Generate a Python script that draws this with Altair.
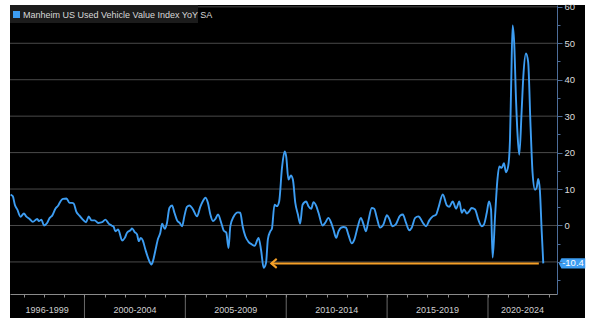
import altair as alt
import pandas as pd

# ---------------- data ----------------
years = [
    1996.34, 1996.45, 1996.55, 1996.67, 1996.83, 1997.00, 1997.11, 1997.28, 1997.44, 1997.66,
    1997.74, 1997.87, 1997.99, 1998.15, 1998.28, 1998.40, 1998.56, 1998.70, 1998.81, 1998.93,
    1999.11, 1999.26, 1999.39, 1999.47, 1999.59, 1999.75, 1999.92, 2000.08, 2000.21, 2000.35,
    2000.51, 2000.68, 2000.88, 2001.04, 2001.20, 2001.34, 2001.45, 2001.53, 2001.67, 2001.87,
    2002.00, 2002.11, 2002.28, 2002.36, 2002.49, 2002.61, 2002.69, 2002.79, 2002.89, 2003.02,
    2003.18, 2003.32, 2003.40, 2003.51, 2003.65, 2003.76, 2003.85, 2003.98, 2004.09, 2004.21,
    2004.34, 2004.46, 2004.59, 2004.72, 2004.84, 2004.95, 2005.08, 2005.21, 2005.36, 2005.58,
    2005.74, 2005.88, 2005.99, 2006.12, 2006.24, 2006.37, 2006.49, 2006.62, 2006.78, 2006.90,
    2007.03, 2007.14, 2007.23, 2007.39, 2007.61, 2007.72, 2007.84, 2007.97, 2008.13, 2008.30,
    2008.43, 2008.63, 2008.76, 2008.88, 2009.00, 2009.09, 2009.21, 2009.29, 2009.42, 2009.54,
    2009.65, 2009.79, 2009.92, 2010.00, 2010.11, 2010.23, 2010.33, 2010.45, 2010.58, 2010.69,
    2010.81, 2010.99, 2011.10, 2011.24, 2011.35, 2011.49, 2011.60, 2011.80, 2011.93, 2012.09,
    2012.23, 2012.34, 2012.48, 2012.59, 2012.72, 2012.84, 2012.96, 2013.08, 2013.25, 2013.38,
    2013.55, 2013.70, 2013.83, 2013.95, 2014.07, 2014.24, 2014.36, 2014.49, 2014.65, 2014.82,
    2014.99, 2015.11, 2015.26, 2015.43, 2015.64, 2015.78, 2015.94, 2016.09, 2016.22, 2016.39,
    2016.55, 2016.63, 2016.80, 2016.93, 2017.09, 2017.26, 2017.43, 2017.54, 2017.76, 2017.96,
    2018.08, 2018.25, 2018.42, 2018.58, 2018.70, 2018.81, 2018.95, 2019.07, 2019.19, 2019.36,
    2019.52, 2019.69, 2019.80, 2019.94, 2020.05, 2020.15, 2020.23, 2020.35, 2020.46, 2020.56,
    2020.68, 2020.79, 2020.89, 2021.00, 2021.09, 2021.15, 2021.22, 2021.30, 2021.39, 2021.47,
    2021.55, 2021.67, 2021.75, 2021.88, 2021.99, 2022.11, 2022.21, 2022.33, 2022.41, 2022.49,
    2022.57, 2022.66, 2022.74,
]
values = [
    8.5, 8.0, 5.7, 4.4, 2.4, 3.3, 2.5, 1.8, 1.0, 1.8,
    1.2, 1.6, 0.0, 0.7, 2.1, 2.7, 4.6, 5.5, 6.6, 7.3,
    7.4, 6.2, 6.2, 6.0, 3.9, 2.7, 1.6, 0.9, 2.5, 1.4,
    1.4, 0.7, 0.9, 1.6, 0.5, 0.0, -0.4, -1.6, -1.1, -4.1,
    -3.4, -2.0, -1.3, -0.8, -1.8, -2.5, -4.3, -3.4, -4.1, -6.6,
    -9.3, -10.7, -9.7, -7.0, -3.6, -2.0, 0.5, -0.9, 0.7, 4.8,
    5.5, 3.5, 1.4, 0.7, -0.2, 2.5, 5.1, 5.5, 4.6, 2.5,
    5.1, 6.8, 7.6, 6.2, 3.0, 1.2, 1.8, 3.0, 0.7, -1.4,
    -2.0, -6.2, -0.2, 2.4, 3.6, 3.5, -0.2, -2.9, -4.5, -5.2,
    -5.6, -3.4, -7.0, -11.6, -10.2, -3.8, -1.6, -0.9, 5.7, 5.3,
    6.6, 15.8, 20.3, 18.9, 12.6, 13.7, 12.6, 6.2, 3.0, 0.5,
    5.7, 6.6, 5.3, 4.6, 6.4, 5.3, 3.5, 0.0, 0.7, 2.1,
    0.7, -1.1, -3.4, -1.6, -0.6, -0.4, -0.6, -2.5, -4.9, -3.8,
    -0.2, 2.1, 0.3, -1.6, 1.2, 4.8, 4.6, 2.1, -0.6, 0.3,
    2.8, 1.8, -0.2, 0.3, 2.7, 3.0, 0.7, -1.3, -0.6, 2.1,
    2.5, 2.1, 0.5, -0.2, 1.4, 2.5, 3.0, 4.8, 8.5, 5.5,
    5.1, 6.6, 4.6, 6.6, 3.5, 4.4, 3.3, 3.9, 4.8, 4.4,
    1.6, -0.2, 0.3, 3.5, 6.6, 4.4, -8.8, 2.5, 12.1, 16.2,
    15.8, 17.1, 14.6, 16.2, 23.5, 39.0, 54.9, 49.9, 34.4, 24.4,
    19.4, 31.7, 40.8, 47.2, 44.9, 27.1, 14.4, 9.8, 10.3, 12.8,
    9.8, -1.4, -10.4,
]

series_name = "Manheim US Used Vehicle Value Index YoY SA"
period_labels = ["1996-1999", "2000-2004", "2005-2009", "2010-2014", "2015-2019", "2020-2024"]
period_centers = [1998.15, 2002.5, 2007.5, 2012.5, 2017.5, 2021.71]
period_bounds = [2000, 2005, 2010, 2015, 2020]
year_ticks = list(range(1997, 2024))
grid_values = [-10, 0, 10, 20, 30, 40, 50, 60]
axis_values = [-15, -10, -5, 0, 5, 10, 15, 20, 25, 30, 35, 40, 45, 50, 55, 60]
latest_value = -10.4
arrow_tip = 2009.26
arrow_end = 2022.52

# ---------------- layout / style ----------------
W, H = 547, 289
X_DOM = [1996.31, 2023.42]
Y_DOM = [-18.8, 60.5]
FONT = "Liberation Sans"
BLUE = "#3d9df2"
ORANGE = "#f5a028"

xs = alt.Scale(domain=X_DOM, nice=False, zero=False)
ys = alt.Scale(domain=Y_DOM, nice=False, zero=False)

x_axis = alt.Axis(orient="bottom", values=year_ticks, labels=False, grid=False,
                  tickSize=3, tickColor="#8a8a8a", domainColor="#8a8a8a",
                  title=None, zindex=1)
y_axis = alt.Axis(orient="right", values=axis_values, grid=False, title=None,
                  labelExpr="(datum.value % 10 == 0 && datum.value != -10) ? datum.label : ''",
                  tickSize={"condition": {"test": "datum.value % 10 == 0", "value": 5}, "value": 3},
                  tickColor="#4d6d99", domainColor="#4d6d99",
                  labelColor="#dcdcdc", labelFont=FONT, labelFontSize=9.5,
                  labelPadding=2, zindex=1)

one = pd.DataFrame({"k": [0]})
line_df = pd.DataFrame({"year": years, "value": values})
grid_df = pd.DataFrame({"v": grid_values})
per_df = pd.DataFrame({"c": period_centers, "lab": period_labels})
bnd_df = pd.DataFrame({"b": period_bounds})
arrow_df = pd.DataFrame({"x1": [arrow_tip], "x2": [arrow_end], "y": [latest_value]})
last_df = pd.DataFrame({"y": [latest_value], "lab": [f"{latest_value:.1f}"]})

background = alt.Chart(one).mark_rect(color="black").encode(
    x=alt.value(0), x2=alt.value(W + 28), y=alt.value(0), y2=alt.value(H + 24)
)

grid = alt.Chart(grid_df).mark_rule(color="#4a4a4a", strokeWidth=1).encode(
    x=alt.value(0), x2=alt.value(W),
    y=alt.Y("v:Q", scale=ys, axis=y_axis)
)

line = alt.Chart(line_df).mark_line(color=BLUE, strokeWidth=1.9, interpolate="monotone").encode(
    x=alt.X("year:Q", scale=xs, axis=x_axis),
    y=alt.Y("value:Q", scale=ys, axis=y_axis),
)

arrow_line = alt.Chart(arrow_df).mark_rule(color=ORANGE, strokeWidth=2).encode(
    x=alt.X("x1:Q", scale=xs, axis=x_axis), x2="x2:Q", y=alt.Y("y:Q", scale=ys, axis=y_axis)
)
arrow_head = alt.Chart(arrow_df).mark_point(
    shape="M0.6,-1L-0.6,0L0.6,1", filled=False, stroke=ORANGE, strokeWidth=2, size=81, opacity=1
).encode(
    x=alt.X("x1:Q", scale=xs, axis=x_axis), y=alt.Y("y:Q", scale=ys, axis=y_axis),
    xOffset=alt.value(2.7)
)

separators = alt.Chart(bnd_df).mark_rule(color="#6a6a6a", strokeWidth=1).encode(
    x=alt.X("b:Q", scale=xs, axis=x_axis), y=alt.value(H), y2=alt.value(H + 24)
)
period_text = alt.Chart(per_df).mark_text(
    color="#d0d0d0", font=FONT, fontSize=9, baseline="middle", align="center"
).encode(
    x=alt.X("c:Q", scale=xs, axis=x_axis), y=alt.value(H + 16), text="lab:N"
)

badge = alt.Chart(last_df).mark_point(
    shape="M-1,0L-0.8,-0.38L1,-0.38L1,0.38L-0.8,0.38Z", filled=True, color=BLUE, size=700, opacity=1
).encode(
    x=alt.value(W + 15), y=alt.Y("y:Q", scale=ys, axis=y_axis)
)
badge_text = alt.Chart(last_df).mark_text(
    color="white", font=FONT, fontSize=9.5, baseline="middle", align="center"
).encode(
    x=alt.value(W + 16), y=alt.Y("y:Q", scale=ys, axis=y_axis), text="lab:N"
)

legend_bg = alt.Chart(one).mark_rect(color="#1c1c1c").encode(
    x=alt.value(0), x2=alt.value(188), y=alt.value(0), y2=alt.value(18)
)
legend_sq = alt.Chart(one).mark_rect(color=BLUE).encode(
    x=alt.value(3), x2=alt.value(10), y=alt.value(6), y2=alt.value(13)
)
legend_txt = alt.Chart(one).mark_text(
    color="#d8d8d8", font=FONT, fontSize=9, align="left", baseline="middle"
).encode(
    x=alt.value(13), y=alt.value(9.5), text=alt.value(series_name)
)

chart = alt.layer(
    background, grid, line, arrow_line, arrow_head, separators, period_text,
    badge, badge_text, legend_bg, legend_sq, legend_txt
).properties(
    width=W, height=H,
    autosize="none",
    padding={"left": 10, "top": 5, "right": 41, "bottom": 32},
    background="white",
).configure_view(strokeWidth=0)

chart.save("out.html", embed_options={"renderer": "svg", "actions": False})
